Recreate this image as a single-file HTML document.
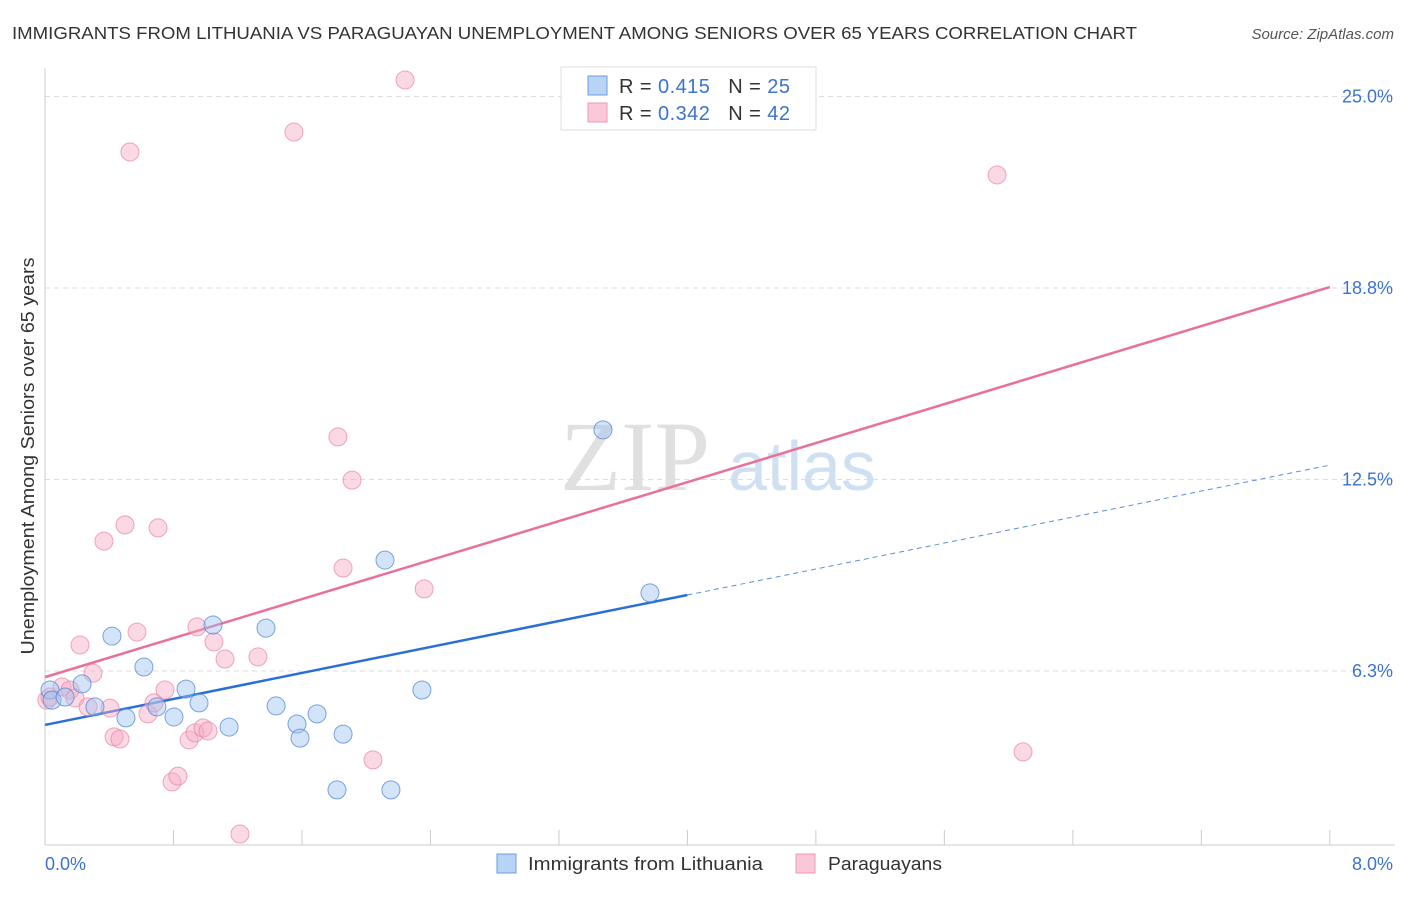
<!DOCTYPE html>
<html><head><meta charset="utf-8"><style>
body{margin:0;background:#fff;font-family:"Liberation Sans",sans-serif;}
</style></head><body>
<svg width="1406" height="892" xmlns="http://www.w3.org/2000/svg" style="font-family:'Liberation Sans',sans-serif">
<text x="12" y="39" font-size="17.5" fill="#333" textLength="1125" lengthAdjust="spacingAndGlyphs">IMMIGRANTS FROM LITHUANIA VS PARAGUAYAN UNEMPLOYMENT AMONG SENIORS OVER 65 YEARS CORRELATION CHART</text>
<text x="1394" y="39" font-size="15" fill="#555" font-style="italic" text-anchor="end">Source: ZipAtlas.com</text>
<g>
<text x="635" y="490" font-size="100" fill="#e0e0e0" font-family="'Liberation Serif',serif" text-anchor="middle">ZIP</text>
<text x="802" y="490" font-size="70" fill="#cfe0f3" text-anchor="middle">atlas</text>
</g>
<g id="grid"></g>
<line x1="45" y1="68" x2="45" y2="845" stroke="#ccc"/>
<line x1="45" y1="845" x2="1395" y2="845" stroke="#ccc"/>
<g id="ticks"></g>
<g id="lines"></g>
<g id="pts"></g>
<text transform="translate(34,456) rotate(-90)" font-size="18" fill="#333" text-anchor="middle" textLength="397" lengthAdjust="spacingAndGlyphs">Unemployment Among Seniors over 65 years</text>
<text x="45" y="870" font-size="18" fill="#3b73d1">0.0%</text>
<text x="1393" y="870" font-size="18" fill="#3b73d1" text-anchor="end">8.0%</text>
<g>
<rect x="561" y="67" width="255" height="63" fill="#fff" stroke="#ddd"/>
<rect x="588" y="76" width="19" height="19" fill="#b9d3f5" stroke="#6a9be0"/>
<rect x="588" y="103" width="19" height="19" fill="#fbc8d8" stroke="#eb98b3"/>
<text x="619" y="93" font-size="20" fill="#333" textLength="171" lengthAdjust="spacing">R = <tspan fill="#3b73d1">0.415</tspan><tspan dx="18">N = </tspan><tspan fill="#3b73d1">25</tspan></text>
<text x="619" y="120" font-size="20" fill="#333" textLength="171" lengthAdjust="spacing">R = <tspan fill="#3b73d1">0.342</tspan><tspan dx="18">N = </tspan><tspan fill="#3b73d1">42</tspan></text>
</g>
<g>
<rect x="497" y="854" width="19" height="19" fill="#b9d3f5" stroke="#6a9be0"/>
<text x="528" y="870" font-size="18.5" fill="#333" textLength="235" lengthAdjust="spacingAndGlyphs">Immigrants from Lithuania</text>
<rect x="796" y="854" width="19" height="19" fill="#fbc8d8" stroke="#eb98b3"/>
<text x="828" y="870" font-size="18.5" fill="#333" textLength="114" lengthAdjust="spacingAndGlyphs">Paraguayans</text>
</g>
</svg>
<script>
const yTicks=[6.25,12.5,18.75,25];
const yTickLabels=["6.3%","12.5%","18.8%","25.0%"];
const xTickVals=[0.8,1.6,2.4,3.2,4.0,4.8,5.6,6.4,7.2,8.0];
const blueX=[0.031,0.044,0.125,0.231,0.311,0.417,0.504,0.616,0.697,0.803,0.878,0.959,1.046,1.146,1.376,1.439,1.569,1.588,1.694,1.818,1.856,2.117,2.154,2.347,3.474,3.767];
const blueY=[5.63,5.30,5.40,5.83,5.08,7.39,4.72,6.38,5.08,4.75,5.66,5.21,7.75,4.42,7.65,5.11,4.52,4.06,4.85,2.37,4.19,9.87,2.37,5.63,14.12,8.80];
const pinkX=[0.012,0.031,0.106,0.156,0.187,0.218,0.268,0.299,0.367,0.405,0.430,0.467,0.498,0.529,0.573,0.641,0.679,0.704,0.747,0.791,0.828,0.897,0.934,0.946,0.984,1.015,1.052,1.121,1.214,1.326,1.550,1.824,1.856,1.912,2.042,2.242,2.361,5.928,6.090];
const pinkY=[5.30,5.40,5.73,5.63,5.37,7.10,5.08,6.18,10.49,5.04,4.10,4.03,11.02,23.19,7.52,4.85,5.21,10.92,5.63,2.63,2.82,4.00,4.23,7.69,4.39,4.29,7.20,6.64,0.93,6.71,23.84,13.89,9.61,12.48,3.35,25.54,8.93,22.44,3.61];
const pinkTrend=[6.05,18.78];
const blueTrend=[4.49,12.97];
const blueSolidEnd=4.0;
const NS="http://www.w3.org/2000/svg";
const xs=v=>45+v*160.6, ys=v=>862.5-v*30.64;
function mk(tag,attrs,parent){const e=document.createElementNS(NS,tag);for(const k in attrs)e.setAttribute(k,attrs[k]);document.getElementById(parent).appendChild(e);return e;}
yTicks.forEach((t,i)=>{
 const l=mk('line',{x1:45,x2:1395,y1:ys(t),y2:ys(t),stroke:'#ddd','stroke-dasharray':'5,4'},'grid');
 
 
 const tx=mk('text',{x:1393,y:ys(t)+6,'font-size':18,fill:'#3b73d1','text-anchor':'end'},'grid');
 tx.textContent=yTickLabels[i];
 
 
});
xTickVals.forEach(t=>{
 const l=mk('line',{x1:xs(t),x2:xs(t),y1:830,y2:845,stroke:'#ccc'},'ticks');
 
 
});
let ln=mk('line',{x1:xs(0),y1:ys(pinkTrend[0]),x2:xs(8),y2:ys(pinkTrend[1]),stroke:'#e8709a','stroke-width':2.5},'lines');


const bAt=x=>blueTrend[0]+(blueTrend[1]-blueTrend[0])*x/8;
ln=mk('line',{x1:xs(0),y1:ys(bAt(0)),x2:xs(blueSolidEnd),y2:ys(bAt(blueSolidEnd)),stroke:'#2a6fd6','stroke-width':2.5},'lines');


ln=mk('line',{x1:xs(blueSolidEnd),y1:ys(bAt(blueSolidEnd)),x2:xs(8),y2:ys(bAt(8)),stroke:'#5b8fd8','stroke-width':1,'stroke-dasharray':'5,4'},'lines');


pinkX.forEach((x,i)=>{
 const c=mk('circle',{cx:xs(x),cy:ys(pinkY[i]),r:9,fill:'rgba(246,170,195,0.45)',stroke:'rgba(232,130,165,0.7)','stroke-width':1},'pts');
 
 
});
blueX.forEach((x,i)=>{
 const c=mk('circle',{cx:xs(x),cy:ys(blueY[i]),r:9,fill:'rgba(160,195,240,0.45)',stroke:'rgba(80,135,215,0.75)','stroke-width':1},'pts');
 
 
});
</script>
</body></html>
